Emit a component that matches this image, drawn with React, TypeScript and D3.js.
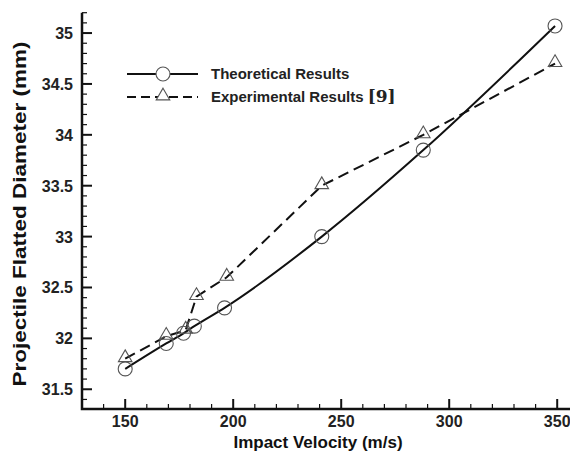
import React, { useEffect, useRef } from 'react';
import * as d3 from 'd3';

// Theoretical results (circles, solid line)
const theoVelocity = [150, 169, 177, 182, 196, 241, 288, 349];
const theoDiameter = [31.7, 31.95, 32.05, 32.12, 32.3, 33.0, 33.85, 35.07];

// Experimental results [9] (triangles, dashed line)
const expVelocity = [150, 169, 178, 183, 197, 241, 288, 349];
const expDiameter = [31.8, 32.02, 32.08, 32.41, 32.6, 33.5, 34.0, 34.7];

const xTicks = [150, 200, 250, 300, 350];
const yTicks = [31.5, 32, 32.5, 33, 33.5, 34, 34.5, 35];

const W = 570;
const H = 458;

export default function App() {
  const svgRef = useRef<SVGSVGElement>(null);

  useEffect(() => {
    if (!svgRef.current) return;
    const svg = d3.select(svgRef.current);
    svg.selectAll('*').remove();

    const left = 82;
    const bottom = 409;
    const x = d3.scaleLinear().domain([130, 355]).range([left, left + 225 * 2.16]);
    const y = d3.scaleLinear().domain([31.306, 35.2]).range([bottom, 12.7]);

    const font = 'Liberation Sans, Arial, sans-serif';

    svg.append('rect').attr('width', W).attr('height', H).attr('fill', '#fff');

    // ticks point inward, minor every 10 m/s and 0.1 mm
    const ax = svg.append('g').attr('stroke', '#111');
    d3.range(140, 356, 10).forEach(v => {
      const major = v % 50 === 0;
      ax.append('line')
        .attr('x1', x(v)).attr('x2', x(v))
        .attr('y1', bottom).attr('y2', bottom - (major ? 10 : 5))
        .attr('stroke-width', major ? 2 : 1.2);
    });
    d3.range(31.4, 35.25, 0.1).forEach(v => {
      const r = Math.round(v * 10) / 10;
      const major = Math.abs(r * 2 - Math.round(r * 2)) < 1e-6;
      ax.append('line')
        .attr('x1', left).attr('x2', left + (major ? 10 : 5))
        .attr('y1', y(r)).attr('y2', y(r))
        .attr('stroke-width', major ? 2 : 1.2);
    });

    // axis lines
    svg.append('path')
      .attr('d', `M${left},${y(35.2)}V${bottom}H${W}`)
      .attr('fill', 'none').attr('stroke', '#111').attr('stroke-width', 2.5);

    // tick labels
    svg.append('g').selectAll('text').data(xTicks).join('text')
      .attr('x', d => x(d)).attr('y', 427)
      .attr('text-anchor', 'middle')
      .attr('font-family', font).attr('font-size', 16).attr('font-weight', 'bold')
      .attr('fill', '#222')
      .text(d => d);
    svg.append('g').selectAll('text').data(yTicks).join('text')
      .attr('x', 73).attr('y', d => y(d) + 6)
      .attr('text-anchor', 'end')
      .attr('font-family', font).attr('font-size', 16).attr('font-weight', 'bold')
      .attr('fill', '#222')
      .text(d => d);

    // axis titles
    svg.append('text')
      .attr('x', 318).attr('y', 448)
      .attr('text-anchor', 'middle')
      .attr('font-family', font).attr('font-size', 17).attr('font-weight', 'bold')
      .attr('fill', '#111')
      .text('Impact Velocity (m/s)');
    svg.append('text')
      .attr('transform', 'translate(26,214) rotate(-90)')
      .attr('text-anchor', 'middle')
      .attr('font-family', font).attr('font-size', 18).attr('font-weight', 'bold')
      .attr('textLength', 345).attr('lengthAdjust', 'spacingAndGlyphs')
      .attr('fill', '#111')
      .text('Projectile Flatted Diameter (mm)');

    const line = d3.line<[number, number]>()
      .x(d => x(d[0]))
      .y(d => y(d[1]));
    const smooth = d3.line<[number, number]>()
      .curve(d3.curveMonotoneX)
      .x(d => x(d[0]))
      .y(d => y(d[1]));

    const theo = theoVelocity.map((v, i) => [v, theoDiameter[i]] as [number, number]);
    const exp = expVelocity.map((v, i) => [v, expDiameter[i]] as [number, number]);

    svg.append('path').datum(exp).attr('d', line)
      .attr('fill', 'none').attr('stroke', '#111').attr('stroke-width', 2)
      .attr('stroke-dasharray', '11,6');
    svg.append('path').datum(theo).attr('d', smooth)
      .attr('fill', 'none').attr('stroke', '#111').attr('stroke-width', 2);

    const tri = d3.symbol().type(d3.symbolTriangle).size(80);
    const markerStroke = '#555';

    svg.append('g').selectAll('circle').data(theo).join('circle')
      .attr('cx', d => x(d[0])).attr('cy', d => y(d[1])).attr('r', 7)
      .attr('fill', 'none').attr('stroke', markerStroke).attr('stroke-width', 1.1);
    svg.append('g').selectAll('path').data(exp).join('path')
      .attr('d', tri)
      .attr('transform', d => `translate(${x(d[0])},${y(d[1]) - 1})`)
      .attr('fill', 'none').attr('stroke', markerStroke).attr('stroke-width', 1.1);

    // legend
    const lg = svg.append('g');
    lg.append('line').attr('x1', 127).attr('x2', 198).attr('y1', 74).attr('y2', 74)
      .attr('stroke', '#111').attr('stroke-width', 2);
    lg.append('circle').attr('cx', 163).attr('cy', 74).attr('r', 7)
      .attr('fill', '#fff').attr('stroke', markerStroke).attr('stroke-width', 1.1);
    lg.append('line').attr('x1', 127).attr('x2', 198).attr('y1', 97).attr('y2', 97)
      .attr('stroke', '#111').attr('stroke-width', 2).attr('stroke-dasharray', '9,5');
    lg.append('path').attr('d', tri).attr('transform', 'translate(163,96)')
      .attr('fill', '#fff').attr('stroke', markerStroke).attr('stroke-width', 1.1);
    lg.append('text').attr('x', 211).attr('y', 79)
      .attr('font-family', font).attr('font-size', 15).attr('font-weight', 'bold')
      .attr('fill', '#222')
      .text('Theoretical Results');
    const t2 = lg.append('text').attr('x', 211).attr('y', 102)
      .attr('font-family', font).attr('font-size', 15).attr('font-weight', 'bold')
      .attr('fill', '#222');
    t2.append('tspan').text('Experimental Results ');
    t2.append('tspan').attr('font-family', 'DejaVu Serif, serif').attr('font-size', 17)
      .text('[9]');
  }, []);

  return (
    <svg ref={svgRef} width={W} height={H}
      style={{ position: 'absolute', left: 0, top: 0, display: 'block' }} />
  );
}
